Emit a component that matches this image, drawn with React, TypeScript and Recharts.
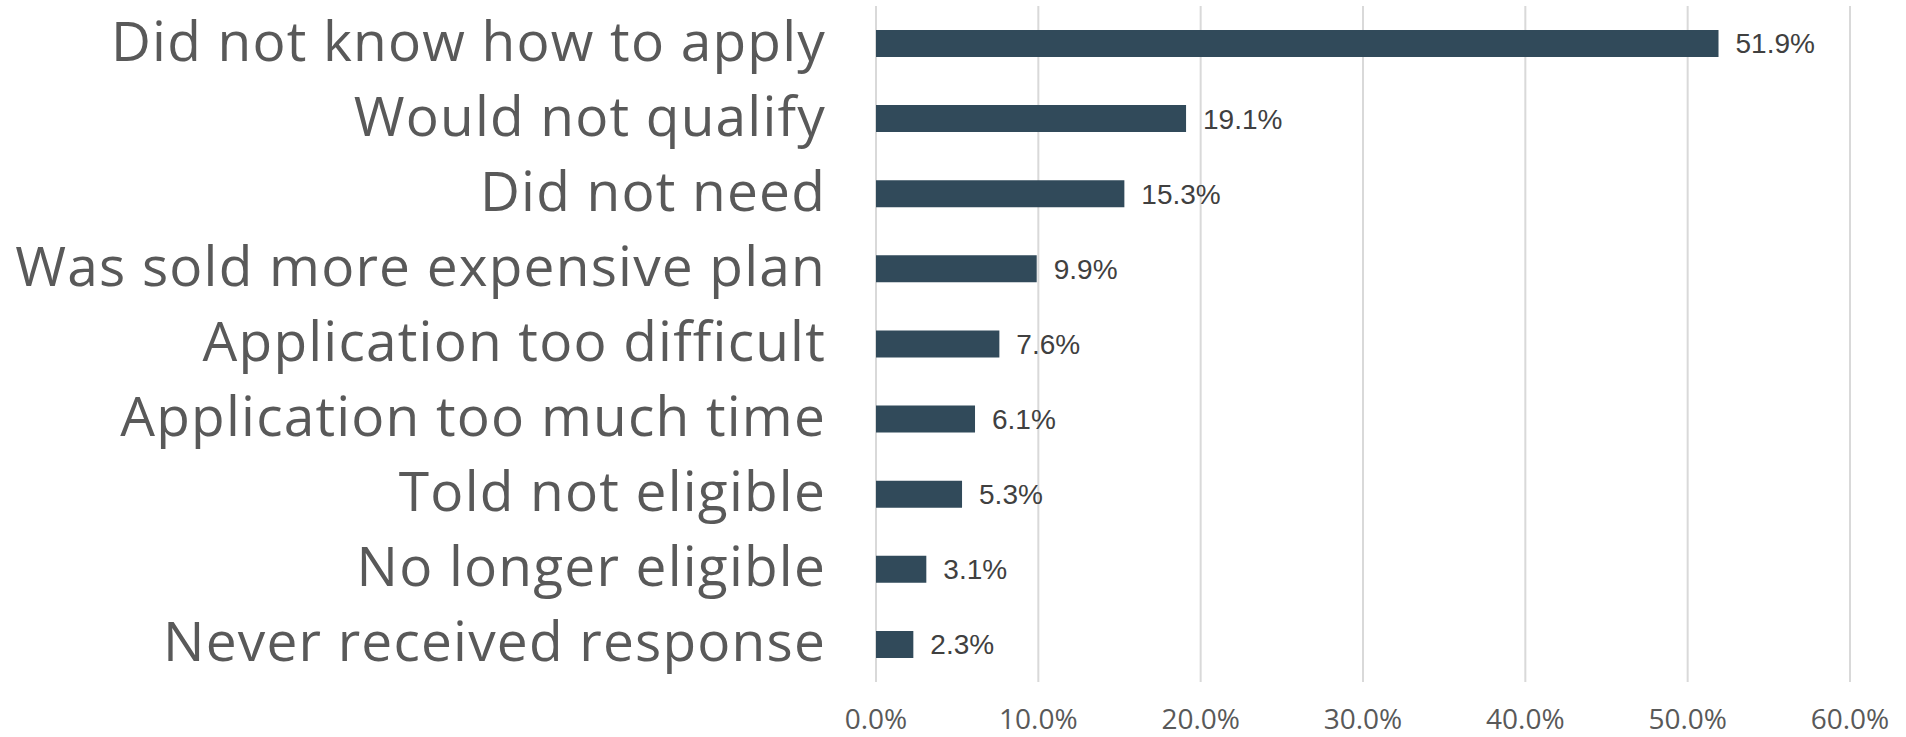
import { Bar, BarChart, CartesianGrid, LabelList, XAxis, YAxis } from "recharts";

const reasons = [
  "Did not know how to apply",
  "Would not qualify",
  "Did not need",
  "Was sold more expensive plan",
  "Application too difficult",
  "Application too much time",
  "Told not eligible",
  "No longer eligible",
  "Never received response",
];
const shares = [51.9, 19.1, 15.3, 9.9, 7.6, 6.1, 5.3, 3.1, 2.3];
const xTicks = [0, 10, 20, 30, 40, 50, 60];

const pct = (v: number) => `${Number(v).toFixed(1)}%`;

function ReasonTick({ x, y, payload }: any) {
  return (
    <text
      x={x}
      y={y}
      dy={17}
      textAnchor="end"
      fill="#595959"
      fontSize={55}
      letterSpacing={1.2}
      fontFamily="'Open Sans', sans-serif"
    >
      {payload.value}
    </text>
  );
}

function PctTick({ x, y, payload }: any) {
  return (
    <text
      x={x}
      y={y}
      dy={16}
      textAnchor="middle"
      fill="#595959"
      fontSize={28}
      fontFamily="'Open Sans', sans-serif"
    >
      {pct(payload.value)}
    </text>
  );
}

export default function App() {
  const data = reasons.map((reason, i) => ({ reason, share: shares[i] }));

  return (
    <div style={{ position: "absolute", left: 0, top: 0, width: 1906, height: 737, background: "#fff" }}>
      <BarChart
        width={1906}
        height={737}
        data={data}
        layout="vertical"
        margin={{ top: 6, right: 56, left: 0, bottom: 0 }}
      >
        <CartesianGrid horizontal={false} stroke="#d9d9d9" strokeWidth={2} />
        <XAxis
          type="number"
          domain={[0, 60]}
          ticks={xTicks}
          axisLine={false}
          tickLine={false}
          height={55}
          tickSize={6}
          tickMargin={25}
          tick={<PctTick />}
          interval={0}
        />
        <YAxis
          type="category"
          dataKey="reason"
          width={876}
          axisLine={false}
          tickLine={false}
          tickSize={6}
          tickMargin={44}
          tick={<ReasonTick />}
          interval={0}
        />
        <Bar dataKey="share" fill="#314a5a" barSize={27} isAnimationActive={false}>
          <LabelList
            dataKey="share"
            position="right"
            offset={17}
            formatter={(v: any) => pct(v)}
            fill="#404040"
            fontSize={28}
            fontFamily="'Liberation Sans', Arial, sans-serif"
          />
        </Bar>
      </BarChart>
    </div>
  );
}
